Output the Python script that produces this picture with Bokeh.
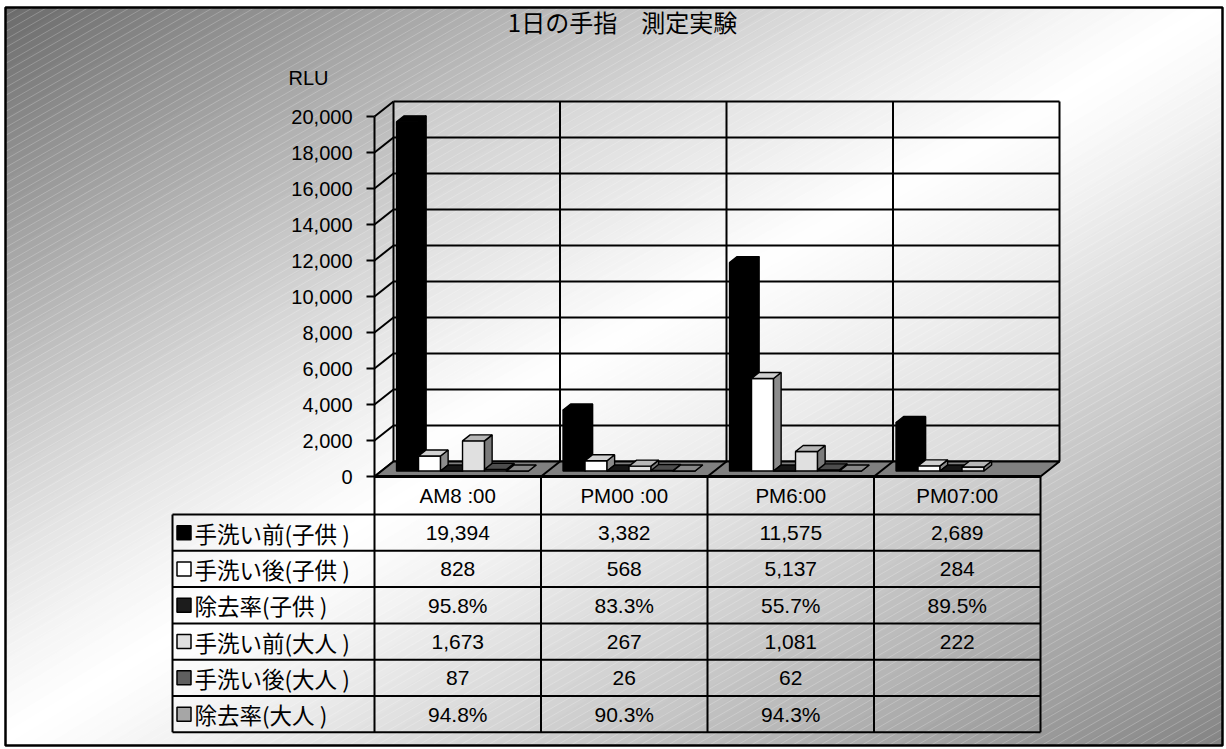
import math
from bokeh.plotting import figure
from bokeh.models import Range1d
from bokeh.core.properties import value
from bokeh.embed import file_html
from bokeh.resources import INLINE

# ---------------- data ----------------
chart_title = "1日の手指　測定実験"
value_axis_title = "RLU"
categories = ["AM8 :00", "PM00 :00", "PM6:00", "PM07:00"]
series_labels = ["手洗い前(子供 )", "手洗い後(子供 )", "除去率(子供 )",
                 "手洗い前(大人 )", "手洗い後(大人 )", "除去率(大人 )"]
before_wash_child = [19394, 3382, 11575, 2689]
after_wash_child = [828, 568, 5137, 284]
removal_rate_child = [0.958, 0.833, 0.557, 0.895]
before_wash_adult = [1673, 267, 1081, 222]
after_wash_adult = [87, 26, 62, None]
removal_rate_adult = [0.948, 0.903, 0.943, None]
value_ticks = [0, 2000, 4000, 6000, 8000, 10000, 12000, 14000, 16000, 18000, 20000]

series_values = [before_wash_child, after_wash_child, removal_rate_child,
                 before_wash_adult, after_wash_adult, removal_rate_adult]
series_is_rate = [False, False, True, False, False, True]
series_colors = ["#000000", "#ffffff", "#1c1c1c", "#e0e0e0", "#5f5f5f", "#a6a6a6"]

# ---------------- page geometry (pixels) ----------------
W, H = 1226, 749
BOX_L, BOX_T, BOX_R, BOX_B = 5, 7, 1222, 745
X0, CW = 374, 166.5          # front edge of the category axis, width of one category
Y0, PX_PER_UNIT = 476, 0.018  # front zero line, pixels per RLU
DEPTH_X, DEPTH_Y = 19, 15     # oblique depth of the 3-D box
DX = DEPTH_X / CW
DY = DEPTH_Y / PX_PER_UNIT
BAR_GAP = 15 / CW
BAR_W = 22 / CW
D_FRONT, D_BACK = 0.37, 0.77
V_MAX = value_ticks[-1]
N_CAT = len(categories)

HEADER_BOTTOM = 514
ROW_H = 36.3
LABEL_LEFT = (172 - X0) / CW

JP = value("Noto Sans CJK JP")
LAT = value("Liberation Sans")

p = figure(width=W, height=H, x_range=Range1d(0, W), y_range=Range1d(H, 0),
           min_border=0, x_axis_location=None, y_axis_location=None,
           toolbar_location=None, tools="", output_backend="svg",
           outline_line_color=None, background_fill_color="white",
           border_fill_color="white")
p.grid.visible = False
p.extra_x_ranges = {"cat": Range1d(-X0 / CW, (W - X0) / CW)}
p.extra_y_ranges = {"rlu": Range1d(-(H - Y0) / PX_PER_UNIT, Y0 / PX_PER_UNIT)}
CAT = dict(x_range_name="cat", y_range_name="rlu")


def clip_poly(poly, fn):
    out = []
    n = len(poly)
    for k in range(n):
        a, b = poly[k], poly[(k + 1) % n]
        fa, fb = fn(a), fn(b)
        if fa >= 0:
            out.append(a)
        if (fa >= 0) != (fb >= 0):
            t = fa / (fa - fb)
            out.append((a[0] + t * (b[0] - a[0]), a[1] + t * (b[1] - a[1])))
    return out


def grey(level):
    g = max(0, min(255, int(round(level))))
    return "#%02x%02x%02x" % (g, g, g)


def shade(hexc, f):
    r, g, b = (int(hexc[i:i + 2], 16) for i in (1, 3, 5))
    return "#%02x%02x%02x" % (int(r * f), int(g * f), int(b * f))


def diagonal_bands(rect, sfun, colfun, n):
    xs, ys, cols = [], [], []
    for k in range(n):
        lo, hi = k / n, (k + 1) / n + 0.004
        poly = clip_poly(rect, lambda q: sfun(q) - lo)
        poly = clip_poly(poly, lambda q: hi - sfun(q))
        if len(poly) >= 3:
            xs.append([q[0] for q in poly])
            ys.append([q[1] for q in poly])
            cols.append(colfun((k + 0.5) / n))
    return xs, ys, cols


# ---------------- chart-area background ----------------
box = [(BOX_L, BOX_T), (BOX_R, BOX_T), (BOX_R, BOX_B), (BOX_L, BOX_B)]
bg_s = lambda q: ((q[0] - BOX_L) / (BOX_R - BOX_L) + (q[1] - BOX_T) / (BOX_B - BOX_T)) / 2


def bg_col(s):
    if s < 0.5:
        return grey(255 - 149 * (1 - s / 0.5) ** 1.25)
    return grey(255 - 123 * ((s - 0.5) / 0.5) ** 1.1)


xs, ys, cols = diagonal_bands(box, bg_s, bg_col, 120)
p.patches(xs, ys, fill_color=cols, line_color=cols, line_width=1)

# back wall of the 3-D box
wall = [(DX, DY), (N_CAT + DX, DY), (N_CAT + DX, V_MAX + DY), (DX, V_MAX + DY)]
wall_s = lambda q: ((q[0] - DX) / N_CAT + (V_MAX + DY - q[1]) / V_MAX) / 2
wall_col = lambda s: grey(200 + 55 * s / 0.5) if s < 0.5 else grey(255 - 42 * (s - 0.5) / 0.5)
xs, ys, cols = diagonal_bands(wall, wall_s, wall_col, 80)
p.patches(xs, ys, fill_color=cols, line_color=cols, line_width=1, **CAT)

# fine diagonal texture over the area
slope = math.tan(math.radians(30))
hx, hy = [], []
b = BOX_T
while b < BOX_B + slope * (BOX_R - BOX_L):
    xa = max(BOX_L, BOX_L + (b - BOX_B) / slope)
    xb = min(BOX_R, BOX_L + (b - BOX_T) / slope)
    if xb > xa:
        hx.append([xa, xb])
        hy.append([b - slope * (xa - BOX_L), b - slope * (xb - BOX_L)])
    b += 8
p.multi_line(hx, hy, line_color="white", line_alpha=0.22, line_width=1)

# ---------------- 3-D box: grid, walls, floor ----------------
p.segment(x0=[DX] * len(value_ticks), y0=[t + DY for t in value_ticks],
          x1=[N_CAT + DX] * len(value_ticks), y1=[t + DY for t in value_ticks],
          line_color="black", line_width=2, **CAT)
p.segment(x0=[c + DX for c in range(N_CAT + 1)], y0=[DY] * (N_CAT + 1),
          x1=[c + DX for c in range(N_CAT + 1)], y1=[V_MAX + DY] * (N_CAT + 1),
          line_color="black", line_width=2, **CAT)
p.segment(x0=[0] * len(value_ticks), y0=value_ticks,
          x1=[DX] * len(value_ticks), y1=[t + DY for t in value_ticks],
          line_color="black", line_width=2, **CAT)
p.segment(x0=[0], y0=[0], x1=[0], y1=[V_MAX], line_color="black", line_width=2, **CAT)

p.patch([0, N_CAT, N_CAT + DX, DX], [0, 0, DY, DY], fill_color="#808080",
        line_color="black", line_width=2, **CAT)
p.segment(x0=list(range(1, N_CAT)), y0=[0] * (N_CAT - 1),
          x1=[c + DX for c in range(1, N_CAT)], y1=[DY] * (N_CAT - 1),
          line_color="black", line_width=2, **CAT)

# ---------------- bars ----------------
def pt(x, d, v):
    return (x + d * DX, v + d * DY)

bx, by, bfill = [], [], []
for c in range(N_CAT):
    for i, vals in enumerate(series_values):
        v = vals[c]
        if v is None:
            continue
        xa = c + BAR_GAP + i * BAR_W
        xb = xa + BAR_W
        base = series_colors[i]
        front = [pt(xa, D_FRONT, 0), pt(xb, D_FRONT, 0), pt(xb, D_FRONT, v), pt(xa, D_FRONT, v)]
        side = [pt(xb, D_FRONT, 0), pt(xb, D_BACK, 0), pt(xb, D_BACK, v), pt(xb, D_FRONT, v)]
        top = [pt(xa, D_FRONT, v), pt(xb, D_FRONT, v), pt(xb, D_BACK, v), pt(xa, D_BACK, v)]
        for poly, col in ((front, base), (side, shade(base, 0.55)), (top, shade(base, 0.82))):
            bx.append([q[0] for q in poly])
            by.append([q[1] for q in poly])
            bfill.append(col)
p.patches(bx, by, fill_color=bfill, line_color="black", line_width=1.4, **CAT)

# ---------------- value axis ----------------
p.segment(x0=[-8 / CW] * len(value_ticks), y0=value_ticks, x1=[0] * len(value_ticks),
          y1=value_ticks, line_color="black", line_width=2, **CAT)
p.text(x=[0] * len(value_ticks), y=value_ticks, text=[f"{t:,}" for t in value_ticks],
       x_offset=-22, text_align="right", text_baseline="middle",
       text_font=LAT, text_font_size="20px", text_color="black", **CAT)
p.text(x=[288], y=[77], text=[value_axis_title], text_align="left",
       text_baseline="middle", text_font=LAT, text_font_size="20px", text_color="black")

# ---------------- data table ----------------
TBL = dict(x_range_name="cat")
row_edges = [HEADER_BOTTOM + r * ROW_H for r in range(len(series_labels) + 1)]
row_mid = [HEADER_BOTTOM + (r + 0.5) * ROW_H for r in range(len(series_labels))]
p.segment(x0=[LABEL_LEFT] * len(row_edges), y0=row_edges, x1=[N_CAT] * len(row_edges),
          y1=row_edges, line_color="black", line_width=2, **TBL)
p.segment(x0=[0], y0=[Y0], x1=[N_CAT], y1=[Y0], line_color="black", line_width=3, **TBL)
p.segment(x0=[LABEL_LEFT], y0=[HEADER_BOTTOM], x1=[LABEL_LEFT], y1=[row_edges[-1]],
          line_color="black", line_width=2, **TBL)
p.segment(x0=list(range(N_CAT + 1)), y0=[Y0] * (N_CAT + 1),
          x1=list(range(N_CAT + 1)), y1=[row_edges[-1]] * (N_CAT + 1),
          line_color="black", line_width=2, **TBL)

p.text(x=[c + 0.5 for c in range(N_CAT)], y=[(Y0 + HEADER_BOTTOM) / 2] * N_CAT,
       text=categories, text_align="center", text_baseline="middle",
       text_font=LAT, text_font_size="20.5px", text_color="black", **TBL)

cx, cy, ct = [], [], []
for r, vals in enumerate(series_values):
    for c in range(N_CAT):
        v = vals[c]
        if v is None:
            continue
        cx.append(c + 0.5)
        cy.append(row_mid[r])
        ct.append(f"{v * 100:.1f}%" if series_is_rate[r] else f"{v:,}")
p.text(x=cx, y=cy, text=ct, text_align="center", text_baseline="middle",
       text_font=LAT, text_font_size="21px", text_color="black", **TBL)

p.rect(x=[183.5] * len(series_labels), y=row_mid, width=14, height=14,
       fill_color=series_colors, line_color="black", line_width=1.5)
p.text(x=[194] * len(series_labels), y=row_mid, text=series_labels, text_align="left",
       text_baseline="middle", text_font=JP, text_font_size="22.5px", text_color="black")

# ---------------- title and frame ----------------
p.text(x=[622], y=[21], text=[chart_title], text_align="center", text_baseline="middle",
       text_font=JP, text_font_size="24px", text_color="black")
p.quad(left=[BOX_L], right=[BOX_R], top=[BOX_T], bottom=[BOX_B], fill_color=None,
       line_color="black", line_width=2.5)

open("out.html", "w").write(file_html(p, INLINE))
